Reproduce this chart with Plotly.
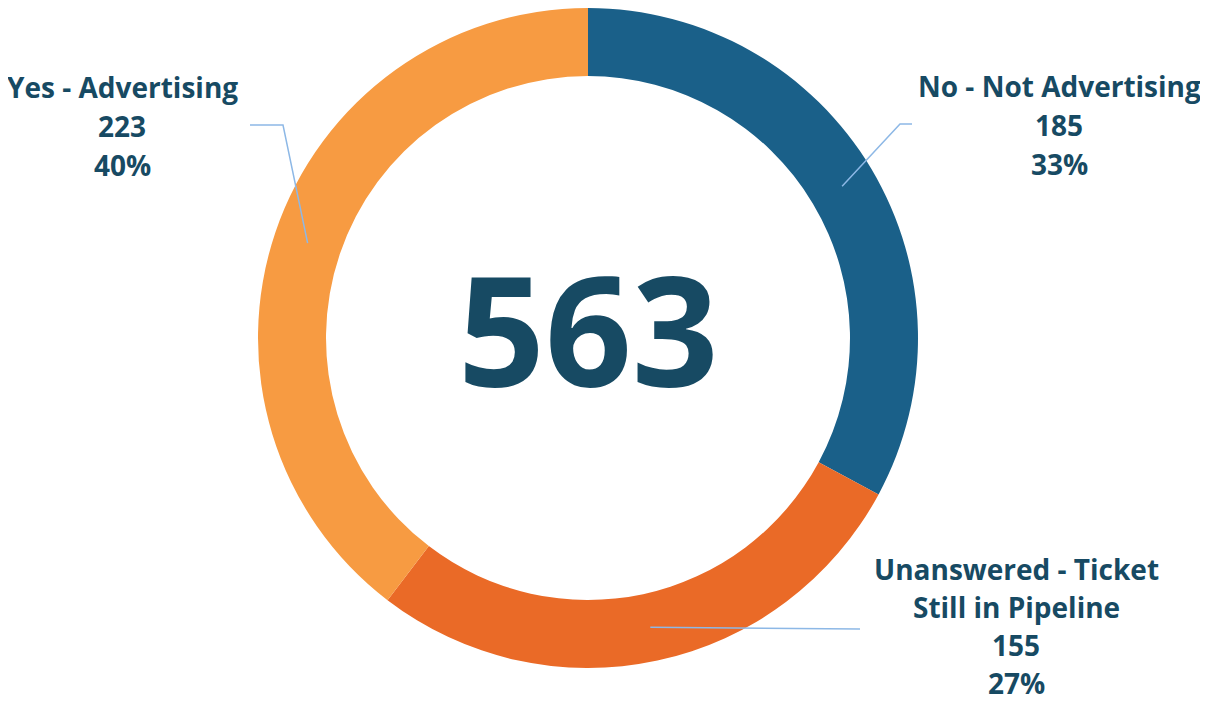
import math
import plotly.graph_objects as go

categories = ["No - Not Advertising", "Unanswered - Ticket<br>Still in Pipeline", "Yes - Advertising"]
values = [185, 155, 223]
colors = ["#1a6089", "#ea6a27", "#f79b42"]
total = sum(values)

W, H = 1208, 702
OFF = 8  # page body margin in the browser
CX, CY, R_OUT, R_IN = 588, 338, 330, 262
TEXT_COLOR = "#174a63"
FONT = "Open Sans"
LINE_COLOR = "#8db8e6"

# percentages rounded so they sum to 100 (largest remainder)
raw = [v / total * 100 for v in values]
pcts = [math.floor(r) for r in raw]
for i in sorted(range(len(raw)), key=lambda i: raw[i] - pcts[i], reverse=True)[:100 - sum(pcts)]:
    pcts[i] += 1

def px(x, y):
    return (x - OFF) / W, 1 - (y - OFF) / H

x0, y1 = px(CX - R_OUT, CY - R_OUT)
x1, y0 = px(CX + R_OUT, CY + R_OUT)

fig = go.Figure(go.Pie(
    labels=categories,
    values=values,
    hole=R_IN / R_OUT,
    sort=False,
    direction="clockwise",
    rotation=0,
    marker=dict(colors=colors, line=dict(color="white", width=0)),
    textinfo="none",
    hoverinfo="label+value+percent",
    domain=dict(x=[max(0, x0), min(1, x1)], y=[max(0, y0), min(1, y1)]),
    showlegend=False,
))

# label layout: (text center x, first line y, line step, elbow point, line end point)
layout_info = [
    dict(x=1059, y=86, step=39, elbow=(900, 124), end=(912, 124)),
    dict(x=1016, y=569, step=38, elbow=(860, 629), end=(860, 629)),
    dict(x=122, y=87, step=39, elbow=(283, 125), end=(250, 125)),
]

annotations = []
shapes = []
cum = 0
for cat, val, pct, info in zip(categories, values, pcts, layout_info):
    mid = (cum + val / 2) / total * 2 * math.pi
    cum += val
    rm = (R_OUT + R_IN) / 2
    sx = CX + rm * math.sin(mid)
    sy = CY - rm * math.cos(mid)
    pts = [(sx, sy), info["elbow"], info["end"]]
    path = "M " + " L ".join(f"{px(a, b)[0]},{px(a, b)[1]}" for a, b in pts)
    shapes.append(dict(type="path", path=path, xref="paper", yref="paper",
                       line=dict(color=LINE_COLOR, width=1.5)))
    lines = cat.split("<br>") + [str(val), f"{pct}%"]
    for i, t in enumerate(lines):
        ax, ay = px(info["x"], info["y"] + i * info["step"])
        annotations.append(dict(x=ax, y=ay, xref="paper", yref="paper", text=f"<b>{t}</b>",
                                showarrow=False, xanchor="center", yanchor="middle",
                                font=dict(family=FONT, size=28, color=TEXT_COLOR)))

cx, cy = px(CX, CY - 9)
annotations.append(dict(x=cx, y=cy, xref="paper", yref="paper", text=f"<b>{total}</b>",
                        showarrow=False, xanchor="center", yanchor="middle",
                        font=dict(family=FONT, size=152, color=TEXT_COLOR)))

fig.update_layout(
    width=W, height=H,
    margin=dict(l=0, r=0, t=0, b=0),
    paper_bgcolor="white", plot_bgcolor="white",
    annotations=annotations, shapes=shapes,
)
fig.write_html("out.html")
